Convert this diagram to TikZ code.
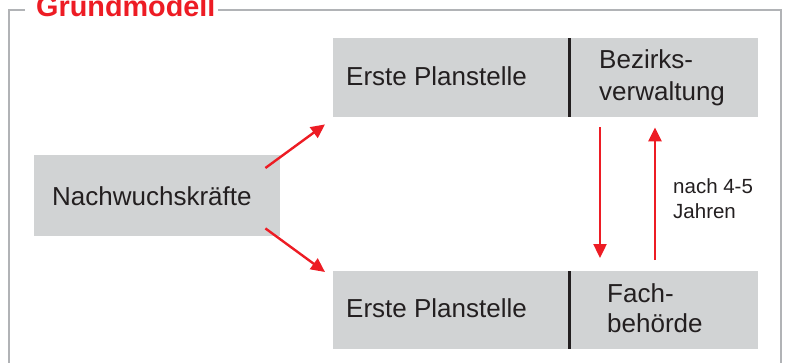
\documentclass[tikz,border=0pt]{standalone}
\usepackage{fontspec}
\setmainfont{Liberation Sans}
\usetikzlibrary{arrows.meta,calc}
\definecolor{myred}{HTML}{ED1C24}
\definecolor{boxgray}{HTML}{D1D3D4}
\definecolor{framegray}{HTML}{B1B3B6}
\definecolor{ink}{HTML}{231F20}
\tikzset{
  box/.style={fill=boxgray, draw=none, inner sep=0pt, anchor=north west},
  txt/.style={inner sep=0pt, text=ink, font=\fontsize{26}{32}\selectfont, align=left},
  divider/.style={draw=ink, line width=2.2pt},
  redarrow/.style={draw=myred, line width=2.4pt, -{Triangle[length=14pt,width=13pt]}},
  frameline/.style={draw=framegray, line width=2pt}
}
\begin{document}
\begin{tikzpicture}[x=1pt, y=-1pt]
\useasboundingbox (0,0) rectangle (787,362);
\clip (0,0) rectangle (787,362);
% frame
\draw[frameline] (25,10) -- (9,10) -- (9,380);
\draw[frameline] (218,10) -- (781,10) -- (781,380);
\node[inner sep=0pt, anchor=base west, text=myred, font=\fontsize{28.8}{30}\selectfont\bfseries] (title) at (36,16) {Grundmodell};
% left box
\node[box, minimum width=246pt, minimum height=81pt] (nw) at (34,155) {};
\node[txt, anchor=west] (nwt) at (52,196) {Nachwuchskräfte};
% top boxes
\node[box, minimum width=236pt, minimum height=79pt] (p1) at (333,38) {};
\node[box, minimum width=189pt, minimum height=79pt] (bz) at (569,38) {};
\draw[divider] (p1.north east) -- (p1.south east);
\node[txt, anchor=west] (p1t) at (346,76) {Erste Planstelle};
\node[txt, anchor=west] (bzt) at (599,77.5) {Bezirks-\\verwaltung};
% bottom boxes
\node[box, minimum width=236pt, minimum height=78pt] (p2) at (333,271) {};
\node[box, minimum width=189pt, minimum height=78pt] (fa) at (569,271) {};
\draw[divider] (p2.north east) -- (p2.south east);
\node[txt, anchor=west] (p2t) at (346,308) {Erste Planstelle};
\node[txt, anchor=west, font=\fontsize{26}{30}\selectfont] (fat) at (607,308) {Fach-\\behörde};
% connectors
\coordinate (a1s) at ($(nw.north east)+(-15,13)$);
\coordinate (a1e) at ($(p1.south west)+(-8,7)$);
\coordinate (a2s) at ($(nw.south east)+(-15,-8)$);
\coordinate (a2e) at ($(p2.north west)+(-8,1)$);
\draw[redarrow] (a1s) -- (a1e);
\draw[redarrow] (a2s) -- (a2e);
\coordinate (d1s) at ($(bz.south west)+(31,10)$);
\coordinate (d1e) at ($(fa.north west)+(31,-13)$);
\coordinate (u1s) at ($(fa.north west)+(86,-11)$);
\coordinate (u1e) at ($(bz.south west)+(86,10)$);
\draw[redarrow] (d1s) -- (d1e);
\draw[redarrow] (u1s) -- (u1e);
\node[inner sep=0pt, anchor=base west, text=ink, align=left, font=\fontsize{20.5}{25}\selectfont] (lab) at (673,218) {nach 4-5\\Jahren};
\end{tikzpicture}
\end{document}
